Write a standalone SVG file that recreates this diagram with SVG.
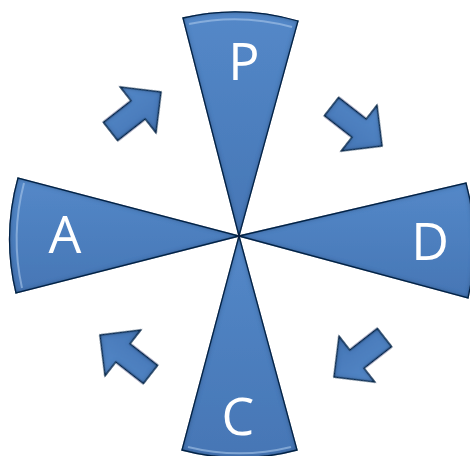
<svg xmlns="http://www.w3.org/2000/svg" width="470" height="456" viewBox="0 0 470 456">
  <defs>
    <linearGradient id="gfill" x1="0" y1="0" x2="0" y2="1">
      <stop offset="0" stop-color="#5488c8"/>
      <stop offset="1" stop-color="#4676b5"/>
    </linearGradient>
    <filter id="bev" x="-10%" y="-10%" width="120%" height="120%">
      <feGaussianBlur in="SourceAlpha" stdDeviation="2.8" result="b"/>
      <feComposite in="SourceAlpha" in2="b" operator="out" result="edge"/>
      <feFlood flood-color="#0b1f3d" flood-opacity="0.95"/>
      <feComposite in2="edge" operator="in" result="dark"/>
      <feMerge><feMergeNode in="SourceGraphic"/><feMergeNode in="dark"/></feMerge>
    </filter>
    <path id="arrow" d="M0,0 L-29,-29 L-29,-11.5 L-64,-11.5 L-64,11.5 L-29,11.5 L-29,29 Z"/>
  </defs>
  <style>
    .wedge { fill: url(#gfill); stroke: #0f2a4e; stroke-width: 1.3; filter: url(#bev); }
    .arr { fill: url(#gfill); stroke: #0f2a4e; stroke-width: 1.3; filter: url(#bev); }
    .lbl { font-family: "Open Sans", "Liberation Sans", sans-serif; font-size: 52px; fill: #ffffff; text-anchor: middle; }
    .hl { fill: none; stroke: #a9c6ea; stroke-width: 2; stroke-opacity: 0.6; }
  </style>

  <g id="node-P">
    <path class="wedge" d="M239,236 L183,18 A224,224 0 0,1 298,21 Z"/>
    <path class="hl" d="M189,24 A218,218 0 0,1 292,27"/>
    <text class="lbl" x="244" y="80">P</text>
  </g>
  <g id="node-D">
    <path class="wedge" d="M239,236 L466,183 A235,235 0 0,1 468,298 Z"/>
    <text class="lbl" x="430" y="260">D</text>
  </g>
  <g id="node-C">
    <path class="wedge" d="M239,236 L297,450 A222,222 0 0,1 182,450 Z"/>
    <path class="hl" d="M291,447 A216,216 0 0,1 188,447"/>
    <text class="lbl" x="238" y="435">C</text>
  </g>
  <g id="node-A">
    <path class="wedge" d="M239,236 L16,293 A229,229 0 0,1 18,178 Z"/>
    <path class="hl" d="M22,288 A223,223 0 0,1 24,183"/>
    <text class="lbl" x="65" y="253">A</text>
  </g>

  <g id="connectors">
    <use href="#arrow" class="arr" transform="translate(161,92) rotate(-38)"/>
    <use href="#arrow" class="arr" transform="translate(382,146) rotate(38)"/>
    <use href="#arrow" class="arr" transform="translate(334,377) rotate(142)"/>
    <use href="#arrow" class="arr" transform="translate(100,335) rotate(-142)"/>
  </g>
</svg>
